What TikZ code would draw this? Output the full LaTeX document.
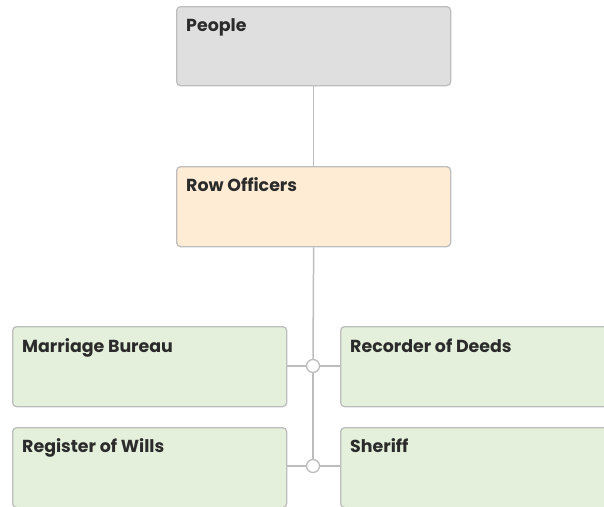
\documentclass[tikz,border=0pt]{standalone}
\usepackage{fontspec}
\setmainfont{Poppins}
\definecolor{edge}{HTML}{BDBDBD}
\definecolor{grayfill}{HTML}{E0DFDF}
\definecolor{orangefill}{HTML}{FFECD5}
\definecolor{greenfill}{HTML}{E4F0DB}
\definecolor{txt}{HTML}{2B2B2B}
\tikzset{
  box/.style={draw=edge, line width=1.3pt, rounded corners=4pt, anchor=north west, inner sep=0pt},
  lbl/.style={anchor=base west, font=\bfseries\fontsize{17.4}{20}\selectfont, text=txt, inner sep=0pt},
  conn/.style={draw=edge, line width=1.5pt},
  junc/.style={circle, draw=edge, fill=white, line width=1.3pt, minimum size=13pt, inner sep=0pt}
}
\begin{document}
\begin{tikzpicture}[x=1pt,y=-1pt]
\useasboundingbox (0,0) rectangle (604,506);
\begin{scope}
\clip (0,0) rectangle (604,506);
\node[box, fill=grayfill, minimum width=274pt, minimum height=79pt] (people) at (176,6) {};
\node[box, fill=orangefill, minimum width=274pt, minimum height=80pt] (row) at (176,166) {};
\node[box, fill=greenfill, minimum width=274pt, minimum height=80pt] (mb) at (12,326) {};
\node[box, fill=greenfill, minimum width=274pt, minimum height=80pt] (rd) at (340,326) {};
\node[box, fill=greenfill, minimum width=274pt, minimum height=80pt] (rw) at (12,427) {};
\node[box, fill=greenfill, minimum width=274pt, minimum height=80pt] (sh) at (340,427) {};
\node[junc] (j1) at (313,366) {};
\node[junc] (j2) at (313,466) {};
\draw[conn] (people.south) -- (row.north);
\draw[conn] (row.south) -- (j1.north);
\draw[conn] (j1.south) -- (j2.north);
\draw[conn] (mb.east |- j1) -- (j1.west);
\draw[conn] (j1.east) -- (rd.west |- j1);
\draw[conn] (rw.east |- j2) -- (j2.west);
\draw[conn] (j2.east) -- (sh.west |- j2);
\node[lbl] (tpeople) at (186,31.5) {People};
\node[lbl] (trow) at (186,191.5) {Row Officers};
\node[lbl] (tmb) at (22,352) {Marriage Bureau};
\node[lbl] (trd) at (350,352) {Recorder of Deeds};
\node[lbl] (trw) at (22,452) {Register of Wills};
\node[lbl] (tsh) at (350,452) {Sheriff};
\end{scope}
\end{tikzpicture}
\end{document}
